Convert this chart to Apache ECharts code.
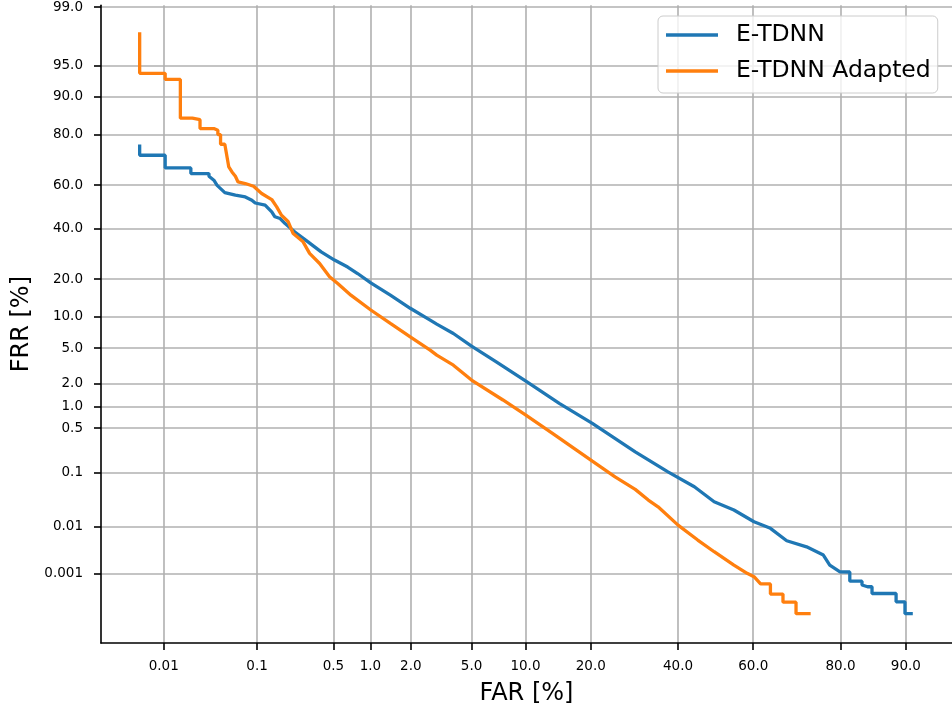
<!DOCTYPE html>
<html>
<head>
<meta charset="utf-8">
<script src="https://cdn.jsdelivr.net/npm/echarts@6/dist/echarts.min.js"></script>
<style>html,body{margin:0;padding:0;background:#fff}#c{width:952px;height:711px}</style>
</head>
<body>
<div id="c"></div>
<script>
// Tick labels (percent)
const farTicks = ['0.01','0.1','0.5','1.0','2.0','5.0','10.0','20.0','40.0','60.0','80.0','90.0'];
const frrTicks = ['0.001','0.01','0.1','0.5','1.0','2.0','5.0','10.0','20.0','40.0','60.0','80.0','90.0','95.0','99.0'];

// Series values: [FAR %, FRR %]
const etdnn = [
 [0.0052,76.6],[0.0052,72.6],[0.0104,72.6],[0.0104,67.5],[0.0203,67.5],[0.0203,65.1],
 [0.032,65.1],[0.032,63.9],[0.0361,62.2],[0.0391,59.9],[0.0471,56.6],[0.0606,55.4],
 [0.0764,54.6],[0.0889,53.1],[0.096,51.8],[0.12,50.8],[0.139,47.7],[0.149,45.4],
 [0.167,44.6],[0.186,42.3],[0.229,38.5],[0.301,34.2],[0.393,30.0],[0.511,26.8],
 [0.658,24.2],[0.792,21.9],[1.007,18.8],[1.42,15.2],[1.98,11.9],[2.72,9.37],
 [3.01,8.61],[3.86,7.03],[5.0,5.25],[6.97,3.57],[10.05,2.13],[14.6,1.11],
 [20.3,0.587],[29.4,0.218],[37.4,0.102],[44.3,0.0562],[49.6,0.0299],[54.9,0.0209],
 [60.2,0.0124],[64.4,0.00915],[68.4,0.0051],[73.0,0.0038],[76.6,0.00254],[77.9,0.00153],
 [79.9,0.00108],[81.7,0.00107],[81.7,0.00066],[83.8,0.00066],[83.8,0.00054],[84.7,0.00049],
 [85.4,0.00049],[85.4,0.00034],[88.8,0.00034],[88.8,0.000215],[89.9,0.000215],[89.9,0.00011],
 [90.8,0.00011]
];
const etdnnAdapted = [
 [0.0052,97.9],[0.0052,94.0],[0.0104,94.0],[0.0104,93.1],[0.0155,93.1],[0.0155,84.9],
 [0.0211,84.9],[0.0211,84.5],[0.0256,84.5],[0.0256,81.9],[0.0361,81.9],[0.0361,81.4],
 [0.0398,81.4],[0.0398,80.0],[0.0425,80.0],[0.0425,76.7],[0.0471,76.7],[0.0518,67.9],
 [0.0559,65.8],[0.0606,63.9],[0.0645,61.4],[0.0764,60.7],[0.0924,59.5],[0.111,56.2],
 [0.139,53.4],[0.155,50.0],[0.172,46.1],[0.199,43.1],[0.221,37.8],[0.272,34.2],
 [0.311,29.4],[0.381,25.5],[0.464,20.8],[0.544,18.6],[0.699,15.2],[1.007,11.5],
 [1.42,8.74],[1.98,6.5],[2.72,4.77],[3.01,4.22],[3.86,3.27],[5.0,2.19],[7.59,1.23],
 [10.05,0.77],[13.58,0.42],[20.3,0.154],[24.9,0.084],[29.4,0.0505],[32.5,0.0322],
 [34.9,0.0241],[40.0,0.0106],[45.2,0.00527],[49.6,0.00299],[54.9,0.00153],[58.4,0.001],
 [60.2,0.00084],[61.9,0.00057],[64.4,0.00057],[64.4,0.00033],[67.5,0.00033],[67.5,0.00021],
 [70.6,0.00021],[70.6,0.00011],[73.9,0.00011]
];

// inverse normal CDF (Acklam)
function probit(p){
 const a=[-3.969683028665376e+01,2.209460984245205e+02,-2.759285104469687e+02,1.383577518672690e+02,-3.066479806614716e+01,2.506628277459239e+00];
 const b=[-5.447609879822406e+01,1.615858368580409e+02,-1.556989798598866e+02,6.680131188771972e+01,-1.328068155288572e+01];
 const c=[-7.784894002430293e-03,-3.223964580411365e-01,-2.400758277161838e+00,-2.549732539343734e+00,4.374664141464968e+00,2.938163982698783e+00];
 const d=[7.784695709041462e-03,3.224671290700398e-01,2.445134137142996e+00,3.754408661907416e+00];
 const pl=0.02425, ph=1-pl; let q,r;
 if(p<pl){q=Math.sqrt(-2*Math.log(p));return (((((c[0]*q+c[1])*q+c[2])*q+c[3])*q+c[4])*q+c[5])/((((d[0]*q+d[1])*q+d[2])*q+d[3])*q+1);}
 if(p<=ph){q=p-0.5;r=q*q;return (((((a[0]*r+a[1])*r+a[2])*r+a[3])*r+a[4])*r+a[5])*q/(((((b[0]*r+b[1])*r+b[2])*r+b[3])*r+b[4])*r+1);}
 q=Math.sqrt(-2*Math.log(1-p));return -(((((c[0]*q+c[1])*q+c[2])*q+c[3])*q+c[4])*q+c[5])/((((d[0]*q+d[1])*q+d[2])*q+d[3])*q+1);
}
const pz = v => probit(parseFloat(v)/100);
const farZ = farTicks.map(pz), frrZ = frrTicks.map(pz);
function labelFor(zs, labels){
  return function(v){let bi=0,bd=1e9;zs.forEach((z,i)=>{const dd=Math.abs(z-v);if(dd<bd){bd=dd;bi=i;}});return labels[bi];};
}
const toZ = arr => arr.map(p => [pz(p[0]), pz(p[1])]);

const FONT = 'DejaVu Sans';
const axisCommon = {
  type:'value',
  axisLine:{show:true,onZero:false,lineStyle:{color:'#000',width:1.6}},
  axisTick:{show:true,length:7,lineStyle:{color:'#000',width:1.6}},
  splitLine:{show:true,lineStyle:{color:'#b0b0b0',width:1.6}},
  nameLocation:'middle',
  nameTextStyle:{fontFamily:FONT,fontSize:24,color:'#000'}
};
const chart = echarts.init(document.getElementById('c'), null, {renderer:'canvas'});
chart.setOption({
  animation:false,
  backgroundColor:'#fff',
  grid:{left:101,top:5,right:-8,bottom:68,containLabel:false},
  xAxis:Object.assign({},axisCommon,{
    min:-4.1416,max:1.5927,name:'FAR [%]',nameGap:39,
    axisTick:Object.assign({},axisCommon.axisTick,{customValues:farZ}),
    axisLabel:{customValues:farZ,formatter:labelFor(farZ,farTicks),fontFamily:FONT,fontSize:13.5,color:'#000',margin:16}
  }),
  yAxis:Object.assign({},axisCommon,{
    min:-5.076,max:2.346,name:'FRR [%]',nameGap:67,
    axisTick:Object.assign({},axisCommon.axisTick,{customValues:frrZ}),
    axisLabel:{customValues:frrZ,formatter:labelFor(frrZ,frrTicks),fontFamily:FONT,fontSize:13.5,color:'#000',margin:18}
  }),
  legend:{
    left:658,top:16,orient:'vertical',
    icon:'rect',itemWidth:52,itemHeight:3.3,itemGap:12,
    padding:[7,7,10,8],
    backgroundColor:'rgba(255,255,255,0.8)',borderColor:'#cccccc',borderWidth:1,borderRadius:5,
    textStyle:{fontFamily:FONT,fontSize:23.5,lineHeight:24,color:'#000',padding:[0,0,0,13]},
    data:['E-TDNN','E-TDNN Adapted']
  },
  series:[
    {name:'E-TDNN',type:'line',symbol:'none',data:toZ(etdnn),lineStyle:{color:'#1f77b4',width:3.3},itemStyle:{color:'#1f77b4'}},
    {name:'E-TDNN Adapted',type:'line',symbol:'none',data:toZ(etdnnAdapted),lineStyle:{color:'#ff7f0e',width:3.3},itemStyle:{color:'#ff7f0e'}}
  ]
});
</script>
</body>
</html>
